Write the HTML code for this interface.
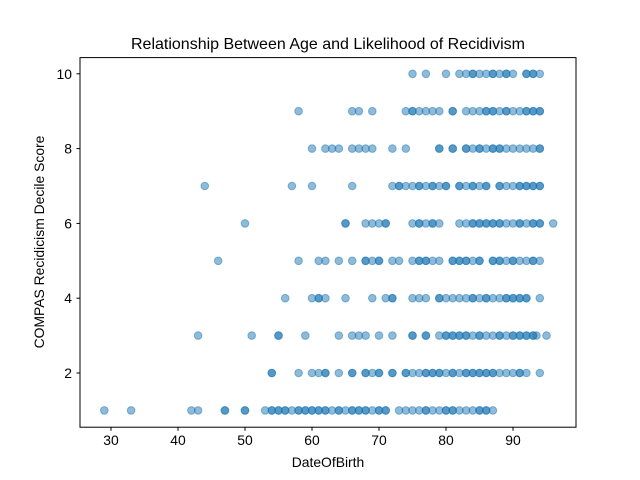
<!DOCTYPE html>
<html><head><meta charset="utf-8"><style>
body{margin:0;background:#fff;}
svg{display:block;font-family:"Liberation Sans","DejaVu Sans",sans-serif;}
</style></head><body>
<svg id="chart" width="640" height="480" viewBox="0 0 640 480">
<rect x="0" y="0" width="640" height="480" fill="#fff"/>
<text x="328" y="49" font-size="16" text-anchor="middle" fill="#000">Relationship Between Age and Likelihood of Recidivism</text>
<text x="328" y="467" font-size="13.9" text-anchor="middle" fill="#000">DateOfBirth</text>
<text x="0" y="0" font-size="13.9" text-anchor="middle" fill="#000" transform="translate(44,242) rotate(-90)">COMPAS Recidicism Decile Score</text>
<g id="marks"></g>
<g id="axes"></g>
<rect x="80" y="57.6" width="496" height="369.6" fill="none" stroke="#000" stroke-width="1"/>
</svg>
<script>
const xTicks = [30, 40, 50, 60, 70, 80, 90];
const yTicks = [2, 4, 6, 8, 10];
const scores = [10, 9, 8, 7, 6, 5, 4, 3, 2, 1];
const ages10 = [75,77,80,82,83,84,84,85,86,87,87,88,89,89,90,92,92,93,93,94];
const ages9 = [58,66,67,69,74,75,75,76,77,78,79,81,81,83,84,85,86,86,87,87,88,89,89,90,91,92,92,93,93,94,94];
const ages8 = [60,62,63,64,66,67,68,69,72,74,79,79,81,81,83,83,84,85,85,86,87,87,88,88,89,90,91,92,93,94,94];
const ages7 = [44,57,60,66,72,73,73,74,75,76,76,77,78,78,79,80,80,82,82,83,84,84,85,86,86,88,88,89,90,91,91,92,92,93,93,94,94];
const ages6 = [50,65,65,68,69,70,71,71,75,76,76,77,78,78,79,82,83,84,84,85,85,86,86,87,87,88,88,89,90,91,91,92,93,93,94,94,96];
const ages5 = [46,58,61,62,64,66,68,68,69,70,70,72,73,75,76,76,77,77,78,79,81,81,82,82,83,83,84,85,85,87,87,88,88,89,90,90,91,92,93,93,94];
const ages4 = [56,60,61,61,62,65,69,71,72,72,75,76,77,79,79,80,81,82,83,84,84,85,86,86,87,88,89,89,90,90,91,91,92,92,94];
const ages3 = [43,51,55,55,59,64,66,67,68,70,72,75,75,77,77,79,80,80,81,81,82,82,83,83,84,85,85,86,87,88,88,89,90,90,91,91,92,92,93,93,93.5,95];
const ages2 = [54,54,58,60,61,62,62,64,66,66,68,68,69,70,70,72,72,74,74,75,76,77,77,78,78,79,79,80,81,81,82,83,83,84,84,85,85,86,86,87,87,88,89,90,91,91,92,94];
const ages1 = [29,33,42,43,47,47,50,50,53,54,54,55,55,56,56,57,58,58,59,59,60,60,61,61,62,62,63,64,64,65,66,66,67,67,68,68,69,70,70,71,71,73,74,75,76,77,77,78,79,80,80,81,81,82,83,84,85,85,86,86,87];
const agesByScore = [ages10, ages9, ages8, ages7, ages6, ages5, ages4, ages3, ages2, ages1];

const NS = "http://www.w3.org/2000/svg";
function xScale(v){ return 111 + (v - 30) * 6.7; }
function yScale(v){ return 373 - (v - 2) * 37.4; }

const marks = document.getElementById('marks');
scores.forEach(function(s, i){
  agesByScore[i].forEach(function(a){
    const c = document.createElementNS(NS, 'circle');
    c.setAttribute('cx', xScale(a));
    c.setAttribute('cy', yScale(s));
    c.setAttribute('r', 3.8);
    c.setAttribute('fill', '#1f77b4');
    c.setAttribute('fill-opacity', 0.5);
    c.setAttribute('stroke', '#1f77b4');
    c.setAttribute('stroke-opacity', 0.5);
    c.setAttribute('stroke-width', 1);
    
    
    marks.appendChild(c);
  });
});

const axes = document.getElementById('axes');
xTicks.forEach(function(t){
  const x = xScale(t);
  const l = document.createElementNS(NS, 'line');
  l.setAttribute('x1', x); l.setAttribute('x2', x);
  l.setAttribute('y1', 427.2); l.setAttribute('y2', 430.7);
  l.setAttribute('stroke', '#000');
  
  
  axes.appendChild(l);
  const tx = document.createElementNS(NS, 'text');
  tx.setAttribute('x', x); tx.setAttribute('y', 445);
  tx.setAttribute('font-size', '13.9');
  tx.setAttribute('text-anchor', 'middle');
  tx.textContent = t;
  
  
  axes.appendChild(tx);
});
yTicks.forEach(function(t){
  const y = yScale(t);
  const l = document.createElementNS(NS, 'line');
  l.setAttribute('x1', 76.5); l.setAttribute('x2', 80);
  l.setAttribute('y1', y); l.setAttribute('y2', y);
  l.setAttribute('stroke', '#000');
  
  
  axes.appendChild(l);
  const tx = document.createElementNS(NS, 'text');
  tx.setAttribute('x', 72); tx.setAttribute('y', y + 5);
  tx.setAttribute('font-size', '13.9');
  tx.setAttribute('text-anchor', 'end');
  tx.textContent = t;
  
  
  axes.appendChild(tx);
});
</script>
</body></html>
